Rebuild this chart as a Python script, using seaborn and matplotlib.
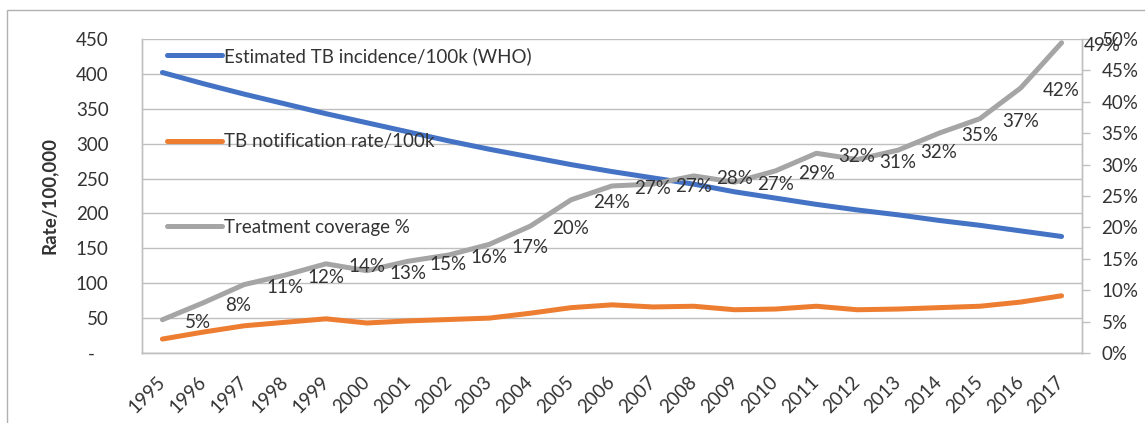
import numpy as np
import pandas as pd
import matplotlib
matplotlib.use("Agg")
import matplotlib.pyplot as plt
import matplotlib.ticker as mticker
from matplotlib.patches import Rectangle
import seaborn as sns

# data
years = list(range(1995, 2018))
incidence = [402, 386, 371, 357, 343, 330, 317, 304, 292, 281, 270, 260,
             251, 242, 231, 222, 213, 205, 198, 190, 183, 175, 167]
notification = [20, 30, 39, 44, 49, 43, 46, 48, 50, 57, 65, 69,
                66, 67, 62, 63, 67, 62, 63, 65, 67, 73, 82]
coverage = [5.3, 8.0, 10.9, 12.4, 14.2, 13.1, 14.6, 15.6, 17.3, 20.2, 24.4, 26.6,
            26.9, 28.2, 27.2, 29.0, 31.8, 30.8, 32.3, 35.0, 37.3, 42.2, 49.4]

LABELS = ["Estimated TB incidence/100k (WHO)", "TB notification rate/100k",
          "Treatment coverage %"]
COLORS = ["#4472C4", "#ED7D31", "#A5A5A5"]
TEXT = "#333333"
GRID = "#BFBFBF"
FS = 13.5

sns.set_theme(style="white")
plt.rcParams["font.family"] = ["Lato", "DejaVu Sans"]

df = pd.DataFrame({"pos": np.arange(len(years)), "year": years,
                   "incidence": incidence, "notification": notification,
                   "coverage": coverage})

fig = plt.figure(figsize=(11.45, 4.23), dpi=100)
ax = fig.add_axes([142 / 1145, 1 - 353 / 423, 940 / 1145, 314 / 423])
ax2 = ax.twinx()

# outer chart frame
fig.add_artist(Rectangle((7 / 1145, -0.05), 1.1, 1 - 10 / 423 + 0.05,
                         transform=fig.transFigure, fill=False,
                         edgecolor="#B0B0B0", linewidth=1))

lw = 3.6
sns.lineplot(data=df, x="pos", y="incidence", ax=ax, color=COLORS[0],
             linewidth=lw, label=LABELS[0], legend=False,
             solid_capstyle="round")
sns.lineplot(data=df, x="pos", y="notification", ax=ax, color=COLORS[1],
             linewidth=lw, label=LABELS[1], legend=False,
             solid_capstyle="round")
sns.lineplot(data=df, x="pos", y="coverage", ax=ax2, color=COLORS[2],
             linewidth=lw, label=LABELS[2], legend=False,
             solid_capstyle="round")

# data labels to the right of each coverage point
for p, v in zip(df["pos"], df["coverage"]):
    ax2.annotate(f"{v:.0f}%", (p, v), xytext=(16, -2), textcoords="offset points",
                 ha="left", va="center", fontsize=FS, color=TEXT)

# left axis
ax.set_xlim(-0.5, len(years) - 0.5)
ax.set_ylim(0, 450)
ax.set_yticks(range(0, 451, 50))
ax.yaxis.set_major_formatter(mticker.FuncFormatter(
    lambda v, _: "-   " if v == 0 else f"{v:.0f}"))
ax.grid(axis="y", color=GRID, linewidth=1)
ax.set_axisbelow(True)
ax.set_xticks(df["pos"])
ax.set_xticklabels(years, rotation=45, ha="right", va="center",
                   rotation_mode="anchor")
ax.tick_params(axis="x", length=0, pad=19, labelsize=FS, labelcolor=TEXT)
ax.tick_params(axis="y", length=0, pad=24, labelsize=FS, labelcolor=TEXT)
ax.set_xlabel("")
ax.set_ylabel("Rate/100,000", fontsize=FS, fontweight="bold", color=TEXT,
              labelpad=13)

# right axis
ax2.set_ylim(0, 50)
ax2.set_yticks(range(0, 51, 5))
ax2.yaxis.set_major_formatter(mticker.FuncFormatter(lambda v, _: f"{v:.0f}%"))
ax2.tick_params(axis="y", length=6, width=1, color=GRID, pad=8,
                labelsize=FS, labelcolor=TEXT)
ax2.set_ylabel("")

for a in (ax, ax2):
    for side in ("left", "right", "bottom"):
        a.spines[side].set_color(GRID)
        a.spines[side].set_linewidth(1)
    a.spines["top"].set_visible(False)

handles = ax.get_lines()[:2] + ax2.get_lines()[:1]
ax2.legend(handles, LABELS, loc="upper left", bbox_to_anchor=(0.027, 0.975),
           frameon=False, fontsize=FS, labelcolor=TEXT, handlelength=2.9,
           handletextpad=0.1, labelspacing=3.65, borderpad=0, borderaxespad=0)

fig.savefig("out.png", dpi=100)
